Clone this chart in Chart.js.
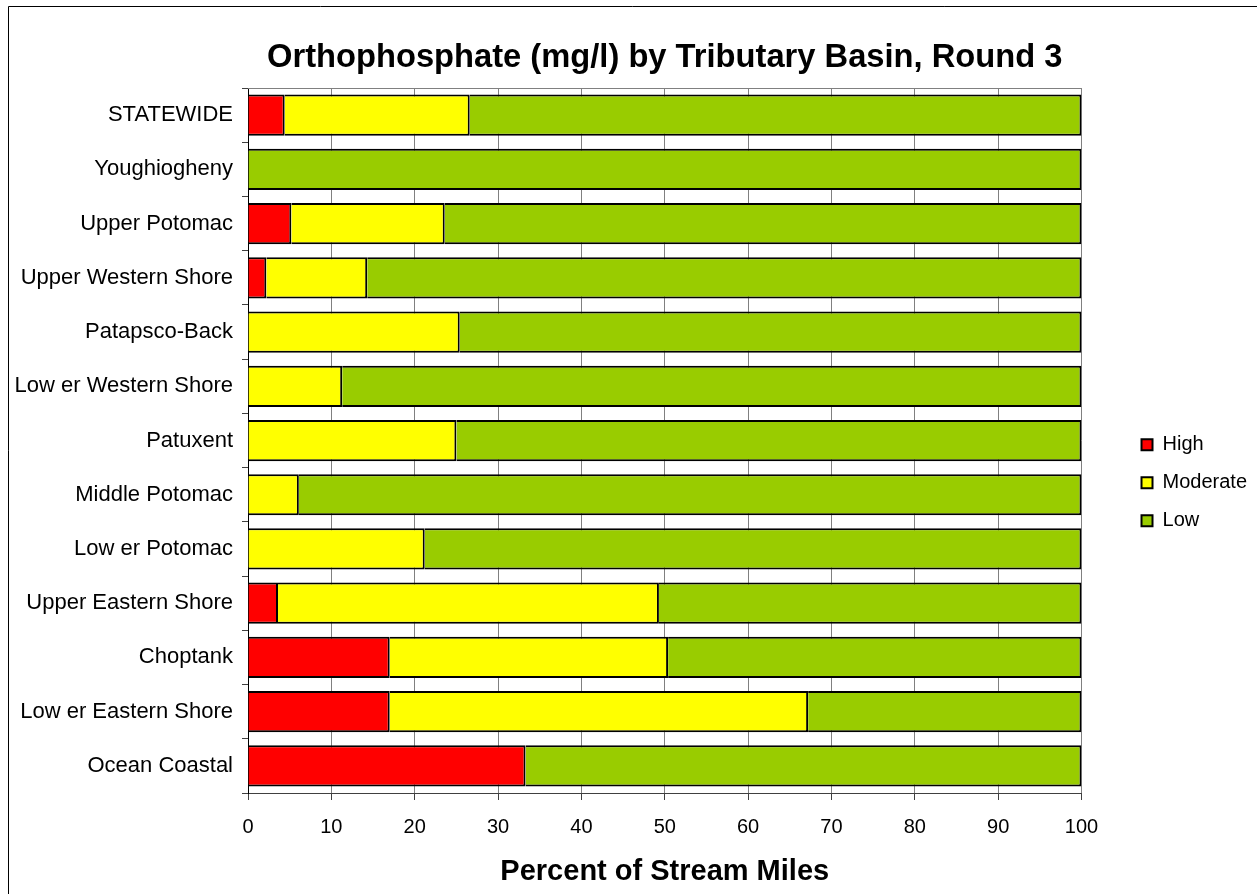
<!DOCTYPE html>
<html>
<head>
<meta charset="utf-8">
<script src="https://cdn.jsdelivr.net/npm/chart.js@4.4.1/dist/chart.umd.min.js"></script>
<style>
  html, body { margin: 0; padding: 0; background: #ffffff; overflow: hidden; }
  #wrap { position: relative; width: 1257px; height: 894px; }
</style>
</head>
<body>
<div id="wrap"><canvas id="c"></canvas></div>
<script>
const categories = ['STATEWIDE', 'Youghiogheny', 'Upper Potomac', 'Upper Western Shore', 'Patapsco-Back',
  'Low er Western Shore', 'Patuxent', 'Middle Potomac', 'Low er Potomac', 'Upper Eastern Shore',
  'Choptank', 'Low er Eastern Shore', 'Ocean Coastal'];
const highValues     = [4.4, 0, 5.2, 2.2, 0, 0, 0, 0, 0, 3.6, 17.0, 17.0, 33.3];
const moderateValues = [22.2, 0, 18.4, 12.1, 25.4, 11.3, 25.0, 6.1, 21.2, 45.7, 33.4, 50.2, 0];
const lowValues      = [73.4, 100, 76.4, 85.7, 74.6, 88.7, 75.0, 93.9, 78.8, 50.7, 49.6, 32.8, 66.7];
const seriesNames = ['High', 'Moderate', 'Low'];
const xTickMin = 0, xTickMax = 100, xTickStep = 10;
const chartTitle = 'Orthophosphate (mg/l) by Tributary Basin, Round 3';
const xAxisTitle = 'Percent of Stream Miles';

const FONT = "'Liberation Sans', Arial, Helvetica, sans-serif";

const framePlugin = {
  id: 'frame',
  beforeDraw(chart) {
    const ctx = chart.ctx;
    ctx.save();
    ctx.fillStyle = '#ffffff';
    ctx.fillRect(0, 0, chart.width, chart.height);
    ctx.strokeStyle = '#000000';
    ctx.lineWidth = 1;
    ctx.beginPath();
    ctx.moveTo(8.5, chart.height);
    ctx.lineTo(8.5, 6.5);
    ctx.lineTo(chart.width, 6.5);
    ctx.stroke();
    ctx.restore();
  },
  beforeDatasetsDraw(chart) {
    const ctx = chart.ctx, a = chart.chartArea;
    ctx.save();
    ctx.strokeStyle = '#808080';
    ctx.lineWidth = 1;
    ctx.beginPath();
    ctx.moveTo(a.left, Math.round(a.top) + 0.5);
    ctx.lineTo(a.right, Math.round(a.top) + 0.5);
    ctx.stroke();
    ctx.restore();
  }
};

const barStyle = {
  borderColor: '#000000',
  borderWidth: 2,
  borderSkipped: 'start',
  categoryPercentage: 1.0,
  barPercentage: 0.76
};

new Chart(document.getElementById('c'), {
  type: 'bar',
  data: {
    labels: categories,
    datasets: [
      Object.assign({ label: seriesNames[0], data: highValues, backgroundColor: '#FF0000' }, barStyle),
      Object.assign({ label: seriesNames[1], data: moderateValues, backgroundColor: '#FFFF00' }, barStyle),
      Object.assign({ label: seriesNames[2], data: lowValues, backgroundColor: '#99CC00' }, barStyle)
    ]
  },
  options: {
    indexAxis: 'y',
    responsive: true,
    maintainAspectRatio: false,
    devicePixelRatio: 1,
    animation: false,
    layout: { padding: { left: 0, right: 0, top: 0, bottom: 0 } },
    plugins: {
      title: {
        display: true,
        text: chartTitle,
        fullSize: false,
        color: '#000000',
        font: { family: FONT, size: 32.7, weight: 'bold' },
        padding: { top: 38, bottom: 10.8 }
      },
      legend: {
        display: true,
        position: 'right',
        align: 'center',
        title: { display: true, text: '', font: { size: 12 }, padding: { top: 57, bottom: 0 } },
        labels: {
          color: '#000000',
          font: { family: FONT, size: 20 },
          boxWidth: 11,
          boxHeight: 11,
          padding: 18
        }
      },
      tooltip: { enabled: false }
    },
    scales: {
      x: {
        stacked: true,
        min: xTickMin,
        max: xTickMax,
        position: 'bottom',
        ticks: { stepSize: xTickStep, color: '#000000', font: { family: FONT, size: 20 }, padding: 15, maxRotation: 0 },
        grid: { color: '#808080', lineWidth: 1, drawTicks: true, tickLength: 7, tickColor: '#404040' },
        border: { display: true, color: '#404040', width: 1 },
        title: { display: true, text: xAxisTitle, color: '#000000', font: { family: FONT, size: 29, weight: 'bold' }, padding: { top: 0, bottom: 5 } },
        afterFit(s) { s.height = 101; }
      },
      y: {
        stacked: true,
        position: 'left',
        ticks: { color: '#000000', font: { family: FONT, size: 22 }, padding: 9, autoSkip: false },
        grid: { display: true, drawOnChartArea: false, drawTicks: true, tickLength: 6, color: '#404040' },
        border: { display: true, color: '#000000', width: 1 },
        afterFit(s) { s.width = 248; }
      },
      yGap: {
        type: 'category',
        position: 'right',
        display: true,
        ticks: { display: false },
        grid: { display: false },
        border: { display: false },
        afterFit(s) { s.width = 42; }
      }
    }
  },
  plugins: [framePlugin]
});
</script>
</body>
</html>
